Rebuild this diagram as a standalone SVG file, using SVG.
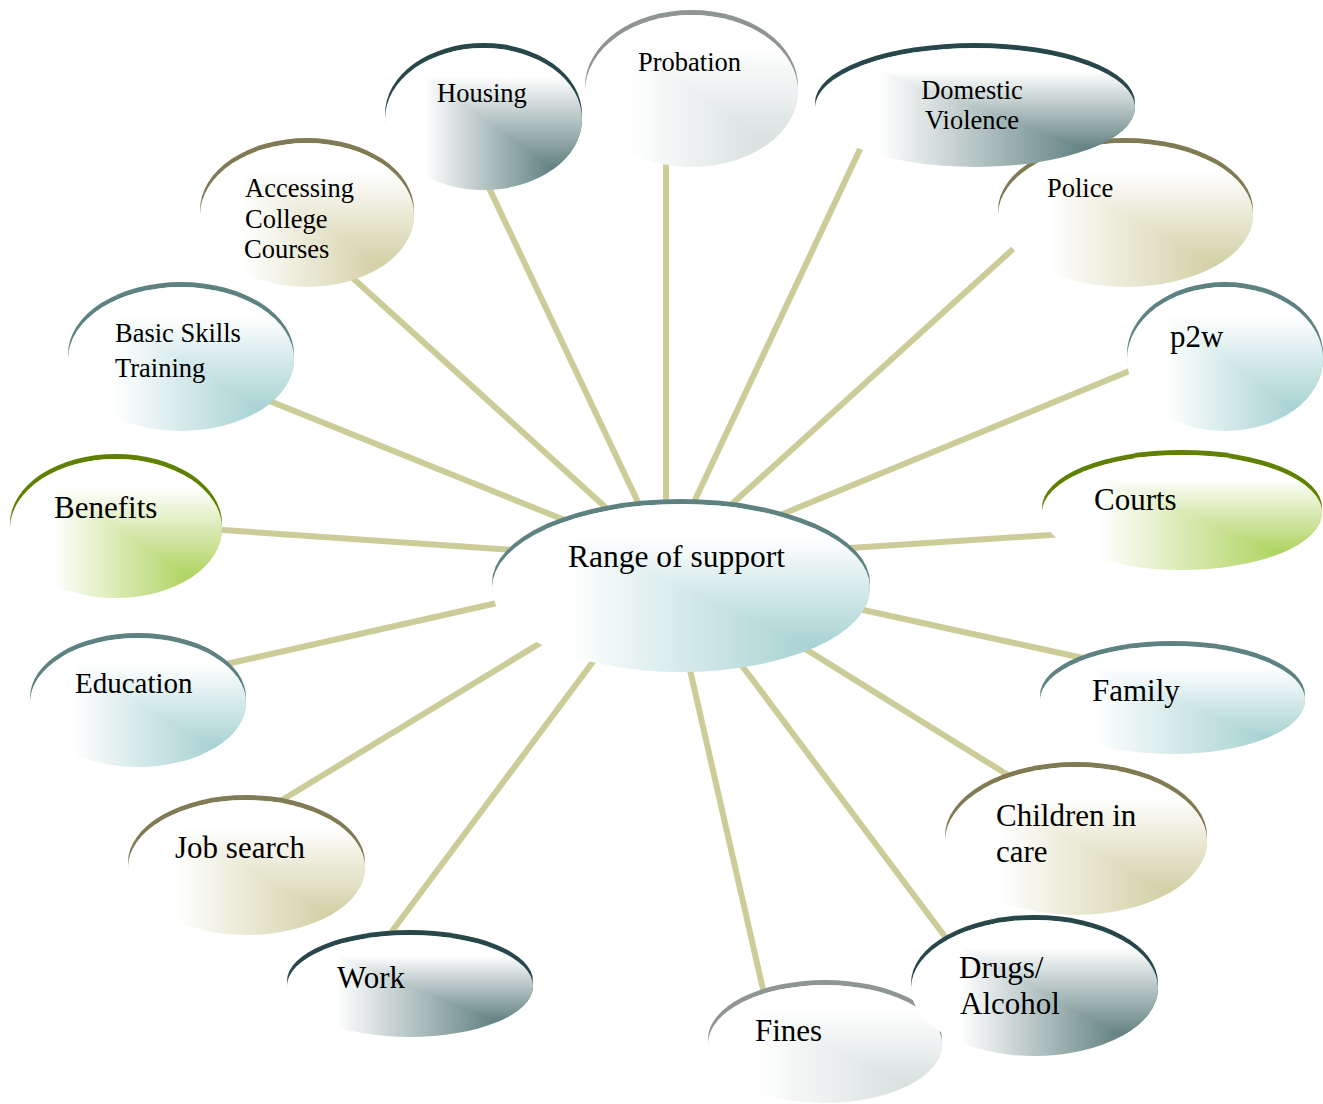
<svg xmlns="http://www.w3.org/2000/svg" width="1323" height="1104" viewBox="0 0 1323 1104">
  <style>
    .link { stroke: #cccc99; stroke-width: 6; fill: none; }
    text { font-family: "Liberation Serif", "Times New Roman", serif; fill: #000; }
    .big { font-size: 31px; }
    .small { font-size: 26.5px; }
    .teal .rim { fill: #5e8282; }
    .teal .fh { fill: url(#teal-h); }
    .teal .fv { fill: url(#teal-v); }
    .dark .rim { fill: #27474a; }
    .dark .fh { fill: url(#dark-h); }
    .dark .fv { fill: url(#dark-v); }
    .olive .rim { fill: #807a55; }
    .olive .fh { fill: url(#olive-h); }
    .olive .fv { fill: url(#olive-v); }
    .green .rim { fill: #5f8000; }
    .green .fh { fill: url(#green-h); }
    .green .fv { fill: url(#green-v); }
    .gray .rim { fill: #8f9494; }
    .gray .fh { fill: url(#gray-h); }
    .gray .fv { fill: url(#gray-v); }
  </style>
  <defs>
    <!-- corner-path shading: horizontal ramp below the diagonal, vertical ramp above it -->
    <clipPath id="upper" clipPathUnits="objectBoundingBox">
      <polygon points="0,0 1,0 1,1"/>
    </clipPath>
    <linearGradient id="teal-h" x1="0" y1="0" x2="1" y2="0"><stop offset="0" stop-color="#fff"/><stop offset="0.2" stop-color="#fff"/><stop offset="1" stop-color="#93c8c8"/></linearGradient>
    <linearGradient id="teal-v" x1="0" y1="0" x2="0" y2="1"><stop offset="0" stop-color="#fff"/><stop offset="0.2" stop-color="#fff"/><stop offset="1" stop-color="#93c8c8"/></linearGradient>
    <linearGradient id="dark-h" x1="0" y1="0" x2="1" y2="0"><stop offset="0" stop-color="#fff"/><stop offset="0.2" stop-color="#fff"/><stop offset="1" stop-color="#3e6464"/></linearGradient>
    <linearGradient id="dark-v" x1="0" y1="0" x2="0" y2="1"><stop offset="0" stop-color="#fff"/><stop offset="0.2" stop-color="#fff"/><stop offset="1" stop-color="#3e6464"/></linearGradient>
    <linearGradient id="olive-h" x1="0" y1="0" x2="1" y2="0"><stop offset="0" stop-color="#fff"/><stop offset="0.2" stop-color="#fff"/><stop offset="1" stop-color="#c8c590"/></linearGradient>
    <linearGradient id="olive-v" x1="0" y1="0" x2="0" y2="1"><stop offset="0" stop-color="#fff"/><stop offset="0.2" stop-color="#fff"/><stop offset="1" stop-color="#c8c590"/></linearGradient>
    <linearGradient id="green-h" x1="0" y1="0" x2="1" y2="0"><stop offset="0" stop-color="#fff"/><stop offset="0.2" stop-color="#fff"/><stop offset="1" stop-color="#9cc93a"/></linearGradient>
    <linearGradient id="green-v" x1="0" y1="0" x2="0" y2="1"><stop offset="0" stop-color="#fff"/><stop offset="0.2" stop-color="#fff"/><stop offset="1" stop-color="#9cc93a"/></linearGradient>
    <linearGradient id="gray-h" x1="0" y1="0" x2="1" y2="0"><stop offset="0" stop-color="#fff"/><stop offset="0.2" stop-color="#fff"/><stop offset="1" stop-color="#cfd9d9"/></linearGradient>
    <linearGradient id="gray-v" x1="0" y1="0" x2="0" y2="1"><stop offset="0" stop-color="#fff"/><stop offset="0.2" stop-color="#fff"/><stop offset="1" stop-color="#cfd9d9"/></linearGradient>
  </defs>

  <!-- spokes from the hub to each topic -->
  <g id="connectors">
    <line class="link" x1="643.4" y1="513.6" x2="479.3" y2="167.4"/>
    <line class="link" x1="666" y1="515" x2="666" y2="140"/>
    <line class="link" x1="688.6" y1="513.6" x2="865.6" y2="137.4"/>
    <line class="link" x1="721.9" y1="513.1" x2="1030.5" y2="233.2"/>
    <line class="link" x1="771.1" y1="518.7" x2="1150" y2="362.5"/>
    <line class="link" x1="835" y1="549" x2="1073" y2="533.4"/>
    <line class="link" x1="848.3" y1="606.8" x2="1102.4" y2="662.3"/>
    <line class="link" x1="794.3" y1="642.1" x2="1024.2" y2="785.2"/>
    <line class="link" x1="734" y1="655" x2="955" y2="950"/>
    <line class="link" x1="686.7" y1="655.4" x2="767.6" y2="1009.4"/>
    <line class="link" x1="601" y1="651" x2="378" y2="950"/>
    <line class="link" x1="549.8" y1="637.2" x2="265.6" y2="810"/>
    <line class="link" x1="502.6" y1="601.7" x2="206.6" y2="668.5"/>
    <line class="link" x1="515" y1="550" x2="197" y2="528.3"/>
    <line class="link" x1="570.9" y1="522.6" x2="248.8" y2="392.6"/>
    <line class="link" x1="614.1" y1="515.1" x2="336.5" y2="263.2"/>
  </g>

  <g id="node-probation" class="gray">
    <ellipse class="rim" cx="691.5" cy="86" rx="106.5" ry="76"/>
    <ellipse class="fh" cx="691.5" cy="91" rx="106.5" ry="76"/>
    <ellipse class="fv" cx="691.5" cy="91" rx="106.5" ry="76" clip-path="url(#upper)"/>
    <text class="small" x="638" y="71">Probation</text>
  </g>

  <g id="node-police" class="olive">
    <ellipse class="rim" cx="1125.5" cy="210" rx="127.5" ry="72"/>
    <ellipse class="fh" cx="1125.5" cy="215" rx="127.5" ry="72"/>
    <ellipse class="fv" cx="1125.5" cy="215" rx="127.5" ry="72" clip-path="url(#upper)"/>
    <text class="small" x="1047" y="197">Police</text>
  </g>

  <g id="node-domestic-violence" class="dark">
    <ellipse class="rim" cx="975" cy="102.5" rx="160" ry="59.5"/>
    <ellipse class="fh" cx="975" cy="107.5" rx="160" ry="59.5"/>
    <ellipse class="fv" cx="975" cy="107.5" rx="160" ry="59.5" clip-path="url(#upper)"/>
    <text class="small" x="972" y="99" text-anchor="middle">Domestic</text>
    <text class="small" x="972" y="129" text-anchor="middle">Violence</text>
  </g>

  <g id="node-p2w" class="teal">
    <ellipse class="rim" cx="1225" cy="354" rx="98" ry="72"/>
    <ellipse class="fh" cx="1225" cy="359" rx="98" ry="72"/>
    <ellipse class="fv" cx="1225" cy="359" rx="98" ry="72" clip-path="url(#upper)"/>
    <text class="big" x="1170" y="347">p2w</text>
  </g>

  <g id="node-courts" class="green">
    <ellipse class="rim" cx="1182" cy="507.5" rx="140" ry="57.5"/>
    <ellipse class="fh" cx="1182" cy="512.5" rx="140" ry="57.5"/>
    <ellipse class="fv" cx="1182" cy="512.5" rx="140" ry="57.5" clip-path="url(#upper)"/>
    <text class="big" x="1094" y="510">Courts</text>
  </g>

  <g id="node-family" class="teal">
    <ellipse class="rim" cx="1172.5" cy="695" rx="132.5" ry="54"/>
    <ellipse class="fh" cx="1172.5" cy="700" rx="132.5" ry="54"/>
    <ellipse class="fv" cx="1172.5" cy="700" rx="132.5" ry="54" clip-path="url(#upper)"/>
    <text class="big" x="1092" y="701">Family</text>
  </g>

  <g id="node-children-in-care" class="olive">
    <ellipse class="rim" cx="1076" cy="836" rx="131" ry="74"/>
    <ellipse class="fh" cx="1076" cy="841" rx="131" ry="74"/>
    <ellipse class="fv" cx="1076" cy="841" rx="131" ry="74" clip-path="url(#upper)"/>
    <text class="big" x="996" y="826">Children in</text>
    <text class="big" x="996" y="862">care</text>
  </g>

  <g id="node-fines" class="gray">
    <ellipse class="rim" cx="825" cy="1039" rx="117" ry="59"/>
    <ellipse class="fh" cx="825" cy="1044" rx="117" ry="59"/>
    <ellipse class="fv" cx="825" cy="1044" rx="117" ry="59" clip-path="url(#upper)"/>
    <text class="big" x="755" y="1041">Fines</text>
  </g>

  <g id="node-drugs-alcohol" class="dark">
    <ellipse class="rim" cx="1034.5" cy="983" rx="123.5" ry="68"/>
    <ellipse class="fh" cx="1034.5" cy="988" rx="123.5" ry="68"/>
    <ellipse class="fv" cx="1034.5" cy="988" rx="123.5" ry="68" clip-path="url(#upper)"/>
    <text class="big" x="959" y="978">Drugs/</text>
    <text class="big" x="960" y="1014">Alcohol</text>
  </g>

  <g id="node-job-search" class="olive">
    <ellipse class="rim" cx="246.5" cy="862.5" rx="118.5" ry="67.5"/>
    <ellipse class="fh" cx="246.5" cy="867.5" rx="118.5" ry="67.5"/>
    <ellipse class="fv" cx="246.5" cy="867.5" rx="118.5" ry="67.5" clip-path="url(#upper)"/>
    <text class="big" x="175" y="858">Job search</text>
  </g>

  <g id="node-work" class="dark">
    <ellipse class="rim" cx="410" cy="981" rx="123" ry="51"/>
    <ellipse class="fh" cx="410" cy="986" rx="123" ry="51"/>
    <ellipse class="fv" cx="410" cy="986" rx="123" ry="51" clip-path="url(#upper)"/>
    <text class="big" x="337" y="988">Work</text>
  </g>

  <g id="node-education" class="teal">
    <ellipse class="rim" cx="138" cy="697.5" rx="108" ry="64.5"/>
    <ellipse class="fh" cx="138" cy="702.5" rx="108" ry="64.5"/>
    <ellipse class="fv" cx="138" cy="702.5" rx="108" ry="64.5" clip-path="url(#upper)"/>
    <text x="75" y="693" style="font-size:29px">Education</text>
  </g>

  <g id="node-benefits" class="green">
    <ellipse class="rim" cx="116" cy="523.5" rx="106" ry="69.5"/>
    <ellipse class="fh" cx="116" cy="528.5" rx="106" ry="69.5"/>
    <ellipse class="fv" cx="116" cy="528.5" rx="106" ry="69.5" clip-path="url(#upper)"/>
    <text class="big" x="54" y="518">Benefits</text>
  </g>

  <g id="node-accessing-college-courses" class="olive">
    <ellipse class="rim" cx="307" cy="210" rx="107" ry="72"/>
    <ellipse class="fh" cx="307" cy="215" rx="107" ry="72"/>
    <ellipse class="fv" cx="307" cy="215" rx="107" ry="72" clip-path="url(#upper)"/>
    <text class="small" x="245" y="197">Accessing</text>
    <text class="small" x="245" y="228">College</text>
    <text class="small" x="244" y="258">Courses</text>
  </g>

  <g id="node-basic-skills-training" class="teal">
    <ellipse class="rim" cx="181" cy="354" rx="113" ry="72"/>
    <ellipse class="fh" cx="181" cy="359" rx="113" ry="72"/>
    <ellipse class="fv" cx="181" cy="359" rx="113" ry="72" clip-path="url(#upper)"/>
    <text class="small" x="115" y="342">Basic Skills</text>
    <text class="small" x="115" y="377">Training</text>
  </g>

  <g id="node-housing" class="dark">
    <ellipse class="rim" cx="483.5" cy="114" rx="98.5" ry="71"/>
    <ellipse class="fh" cx="483.5" cy="119" rx="98.5" ry="71"/>
    <ellipse class="fv" cx="483.5" cy="119" rx="98.5" ry="71" clip-path="url(#upper)"/>
    <text class="small" x="437" y="102">Housing</text>
  </g>

  <g id="node-range-of-support" class="teal">
    <ellipse class="rim" cx="681" cy="583" rx="189" ry="84"/>
    <ellipse class="fh" cx="681" cy="588" rx="189" ry="84"/>
    <ellipse class="fv" cx="681" cy="588" rx="189" ry="84" clip-path="url(#upper)"/>
    <text x="568" y="567" style="font-size:31.5px">Range of support</text>
  </g>
</svg>
